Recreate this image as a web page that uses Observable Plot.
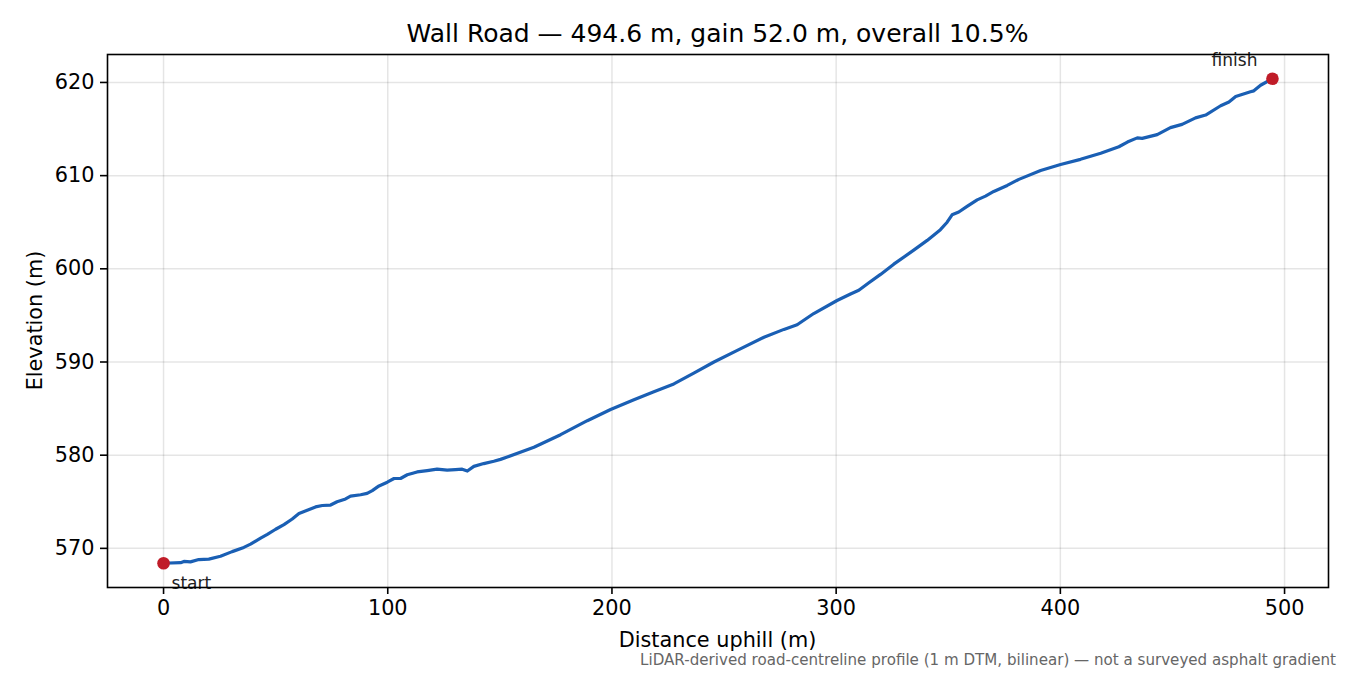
<!DOCTYPE html>
<html><head><meta charset="utf-8">
<script src="https://cdn.jsdelivr.net/npm/d3@7"></script>
<script src="https://cdn.jsdelivr.net/npm/@observablehq/plot@0.6"></script>
<style>body{margin:0;background:#fff} svg{display:block}</style>
</head><body><div id="chart"></div>
<script>
const distance = [0,7.6,9.1,12,15.7,20.2,25.4,30.6,35.8,38.8,43.3,46.3,50,53.7,57.4,60.4,64.1,67.8,70.8,74.5,77.4,81.2,83.4,87.9,90.8,93.1,96.1,99.8,102.8,105.7,108.7,113.1,117.6,122,126.5,130.2,133.2,135.5,138.4,142.8,147.3,150.3,153.3,165.2,177.1,189,199.4,209.8,218.7,227.6,236.5,245.5,255.9,267.8,276.7,282.6,290,300.4,306.4,310.1,314.6,319.8,325.7,334.6,340.6,346.5,349.5,351.7,354.7,358.4,362.9,366.6,370.3,376.3,381.5,391.2,400.1,409,418,426.1,429.9,434.3,436.5,443.2,449.1,454.3,460.3,464.8,471.5,475.2,478.2,484.8,486.3,489.3,494.6];
const elevation = [568.4,568.46,568.6,568.55,568.8,568.85,569.15,569.65,570.1,570.45,571.1,571.5,572.05,572.55,573.15,573.75,574.1,574.45,574.6,574.65,575.0,575.3,575.6,575.75,575.9,576.2,576.7,577.1,577.5,577.5,577.9,578.2,578.35,578.5,578.4,578.45,578.5,578.3,578.8,579.1,579.35,579.55,579.8,580.85,582.2,583.7,584.9,585.95,586.8,587.65,588.8,590.0,591.25,592.65,593.5,594.0,595.2,596.6,597.3,597.7,598.5,599.4,600.5,602.0,603.05,604.2,605.0,605.8,606.1,606.7,607.4,607.8,608.3,608.95,609.6,610.55,611.2,611.75,612.4,613.1,613.6,614.05,614.0,614.4,615.15,615.5,616.2,616.5,617.5,617.9,618.5,619.0,619.1,619.7,620.4];
const xTicks = [0,100,200,300,400,500];
const yTicks = [570,580,590,600,610,620];
const endLabels = ["start","finish"];
const titleText = "Wall Road — 494.6 m, gain 52.0 m, overall 10.5%";
const xLabel = "Distance uphill (m)";
const yLabel = "Elevation (m)";
const captionText = "LiDAR-derived road-centreline profile (1 m DTM, bilinear) — not a surveyed asphalt gradient";

const data = distance.map((d, i) => ({d, e: elevation[i]}));
const ends = [data[0], data[data.length - 1]];
const font = "DejaVu Sans";

const chart = Plot.plot({
  width: 1350, height: 675,
  marginLeft: 107, marginRight: 22, marginTop: 54, marginBottom: 88,
  style: {fontFamily: font, background: "#fff", color: "#000"},
  x: {domain: [-25, 519.6]},
  y: {domain: [565.8, 623.0]},
  marks: [
    Plot.gridX(xTicks, {stroke: "#000", strokeOpacity: 0.1, strokeWidth: 1.5}),
    Plot.gridY(yTicks, {stroke: "#000", strokeOpacity: 0.1, strokeWidth: 1.5}),
    Plot.axisX(xTicks, {tickSize: 7, tickPadding: 6, fontSize: 20.8, label: null, strokeWidth: 1.6, tickFormat: d => String(d)}),
    Plot.axisY(yTicks, {tickSize: 7, tickPadding: 6, fontSize: 20.8, label: null, strokeWidth: 1.6, tickFormat: d => String(d)}),
    Plot.line(data, {x: "d", y: "e", stroke: "#1a5fb4", strokeWidth: 3.2, strokeLinejoin: "round"}),
    Plot.dot(ends, {x: "d", y: "e", r: 6.3, fill: "#c01c28", stroke: "none"}),
    Plot.text([ends[0]], {x: "d", y: "e", text: () => endLabels[0], textAnchor: "start", dx: 8, dy: 20, fontSize: 17, fill: "#222"}),
    Plot.text([ends[1]], {x: "d", y: "e", text: () => endLabels[1], textAnchor: "end", dx: -15, dy: -18, fontSize: 17, fill: "#222"}),
    Plot.frame({stroke: "#000", strokeWidth: 1.6})
  ]
});

const svg = d3.select(chart);
svg.append("text").attr("x", 717.5).attr("y", 42).attr("text-anchor", "middle")
  .attr("font-family", font).attr("font-size", 25).attr("fill", "#000").text(titleText);
svg.append("text").attr("x", 717.5).attr("y", 647).attr("text-anchor", "middle")
  .attr("font-family", font).attr("font-size", 20.8).attr("fill", "#000").text(xLabel);
svg.append("text").attr("transform", "translate(42,320.5) rotate(-90)").attr("text-anchor", "middle")
  .attr("font-family", font).attr("font-size", 20.8).attr("fill", "#000").text(yLabel);
svg.append("text").attr("x", 1336).attr("y", 665).attr("text-anchor", "end")
  .attr("font-family", font).attr("font-size", 15.1).attr("fill", "#666").text(captionText);

document.getElementById("chart").appendChild(chart);
</script>
</body></html>
